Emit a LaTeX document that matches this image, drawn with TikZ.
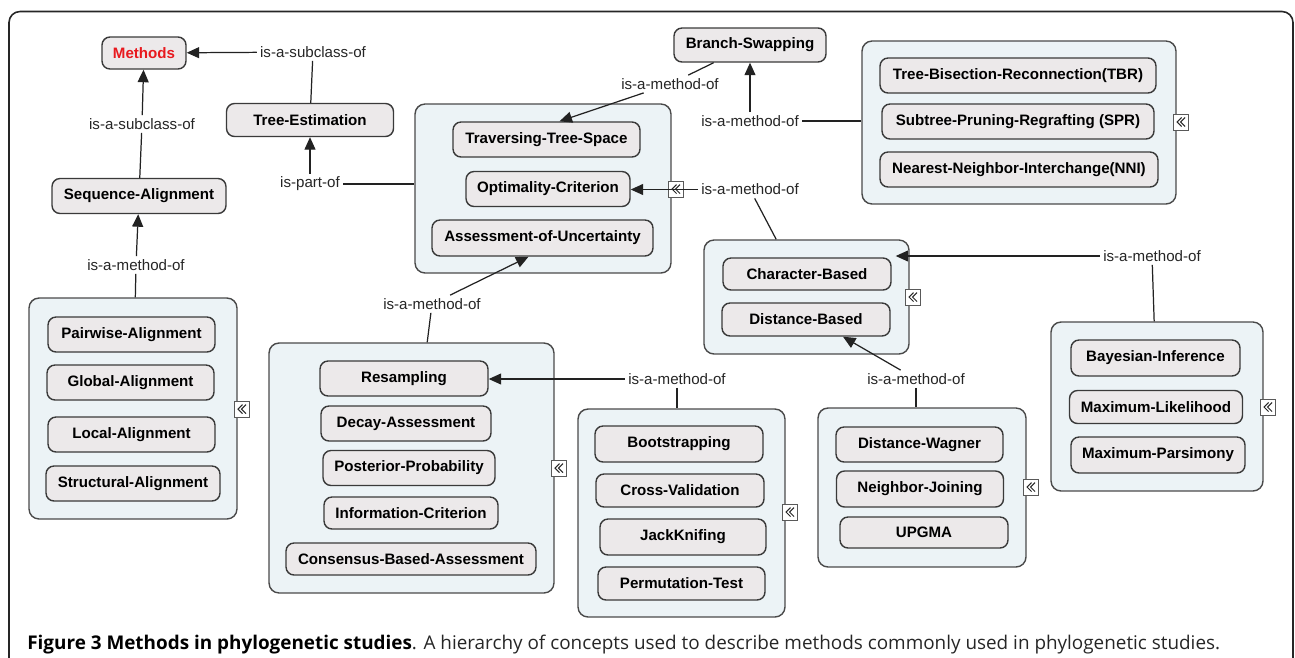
\documentclass[tikz,border=0pt]{standalone}
\usepackage{fontspec}
\setmainfont{Liberation Sans}
\newfontfamily\capfont{Open Sans}
\usetikzlibrary{arrows.meta,calc}
\definecolor{ndraw}{HTML}{3A3A3A}
\definecolor{nfill}{HTML}{ECE9EA}
\definecolor{gdraw}{HTML}{4A4A4A}
\definecolor{gfill}{HTML}{ECF3F6}
\definecolor{mred}{HTML}{E8191E}
\definecolor{lnk}{HTML}{222222}
\tikzset{
  concept/.style={draw=ndraw, fill=nfill, rounded corners=0.16cm, line width=0.8pt,
    minimum height=0.70cm, inner sep=0pt, font=\bfseries\fontsize{8.6}{10}\selectfont, text=black},
  grp/.style={draw=gdraw, fill=gfill, rounded corners=0.2cm, line width=0.8pt, inner sep=0pt},
  lbl/.style={fill=white, inner sep=0.06cm, font=\fontsize{8.6}{10}\selectfont, text=black!85},
  conn/.style={draw=lnk, line width=0.7pt},
  arr/.style={conn, -{Triangle[length=0.25cm,width=0.22cm]}},
  icon/.style={draw=black!65, fill=white, line width=0.5pt, minimum width=0.30cm,
    minimum height=0.32cm, inner sep=0pt,
    path picture={
      \draw[line width=0.6pt, black!85]
        ([xshift=0.01cm,yshift=0.09cm]path picture bounding box.center) --
        ([xshift=-0.08cm]path picture bounding box.center) --
        ([xshift=0.01cm,yshift=-0.09cm]path picture bounding box.center);
      \draw[line width=0.6pt, black!85]
        ([xshift=0.08cm,yshift=0.09cm]path picture bounding box.center) --
        ([xshift=-0.01cm]path picture bounding box.center) --
        ([xshift=0.08cm,yshift=-0.09cm]path picture bounding box.center);
    }}
}
\begin{document}
\begin{tikzpicture}[x=0.02cm,y=-0.02cm]
\useasboundingbox (0,0) rectangle (1295,657);
\begin{scope}
\clip (0,0) rectangle (1295,657);
\draw[draw=black!85, line width=0.9pt, rounded corners=0.22cm] (9,720) -- (9,11.5) -- (1293,11.5) -- (1293,720);
\end{scope}

% groups
\node[grp, minimum width=5.12cm, minimum height=3.38cm] (g1) at (543,188.5) {};
\node[grp, minimum width=6.28cm, minimum height=3.26cm] (gtbr) at (1019,122.5) {};
\node[grp, minimum width=4.10cm, minimum height=2.28cm] (gchar) at (806.5,297) {};
\node[grp, minimum width=4.16cm, minimum height=4.42cm] (galign) at (133,408.5) {};
\node[grp, minimum width=5.70cm, minimum height=5.00cm] (gresamp) at (411.5,468) {};
\node[grp, minimum width=4.14cm, minimum height=4.16cm] (gboot) at (681.5,513) {};
\node[grp, minimum width=4.16cm, minimum height=3.18cm] (gupgma) at (922,487.5) {};
\node[grp, minimum width=4.24cm, minimum height=3.38cm] (gbayes) at (1157,406.5) {};

% concepts
\node[concept, minimum width=1.68cm, minimum height=0.64cm, text=mred] (methods) at (144,53) {Methods};
\node[concept, minimum width=3.34cm, minimum height=0.66cm] (treeest) at (310,120) {Tree-Estimation};
\node[concept, minimum width=3.48cm] (seq) at (139,196) {Sequence-Alignment};
\node[concept, minimum width=3.04cm, minimum height=0.68cm] (branch) at (750,45) {Branch-Swapping};
\node[concept, minimum width=3.74cm] (trav) at (546.5,139.5) {Traversing-Tree-Space};
\node[concept, minimum width=3.28cm] (optim) at (548,189) {Optimality-Criterion};
\node[concept, minimum width=4.42cm, minimum height=0.72cm] (assess) at (542.5,238) {Assessment-of-Uncertainty};
\node[concept, minimum width=5.52cm] (tbr) at (1018,75.5) {Tree-Bisection-Reconnection(TBR)};
\node[concept, minimum width=5.44cm] (spr) at (1018,121.5) {Subtree-Pruning-Regrafting (SPR)};
\node[concept, minimum width=5.56cm] (nni) at (1019,169.5) {Nearest-Neighbor-Interchange(NNI)};
\node[concept, minimum width=3.36cm, minimum height=0.64cm] (charb) at (807,274) {Character-Based};
\node[concept, minimum width=3.36cm, minimum height=0.66cm] (distb) at (806,319.5) {Distance-Based};
\node[concept, minimum width=3.34cm] (pair) at (131.5,334.5) {Pairwise-Alignment};
\node[concept, minimum width=3.34cm] (glob) at (130.5,382.5) {Global-Alignment};
\node[concept, minimum width=3.34cm] (loc) at (131.5,434.5) {Local-Alignment};
\node[concept, minimum width=3.48cm] (struct) at (133,483.5) {Structural-Alignment};
\node[concept, minimum width=3.36cm] (resamp) at (404,378.5) {Resampling};
\node[concept, minimum width=3.40cm] (decay) at (406,423.5) {Decay-Assessment};
\node[concept, minimum width=3.44cm] (post) at (409,468) {Posterior-Probability};
\node[concept, minimum width=3.48cm, minimum height=0.64cm] (info) at (411,513) {Information-Criterion};
\node[concept, minimum width=5.00cm, minimum height=0.64cm] (cons) at (411,559) {Consensus-Based-Assessment};
\node[concept, minimum width=3.36cm, minimum height=0.72cm] (boot) at (679,444) {Bootstrapping};
\node[concept, minimum width=3.36cm, minimum height=0.66cm] (cross) at (680,490.5) {Cross-Validation};
\node[concept, minimum width=3.32cm, minimum height=0.72cm] (jack) at (683,537) {JackKnifing};
\node[concept, minimum width=3.34cm, minimum height=0.66cm] (perm) at (681.5,583.5) {Permutation-Test};
\node[concept, minimum width=3.34cm] (dw) at (919.5,444.5) {Distance-Wagner};
\node[concept, minimum width=3.34cm, minimum height=0.72cm] (nj) at (920,489) {Neighbor-Joining};
\node[concept, minimum width=3.36cm, minimum height=0.62cm] (upgma) at (924,532.5) {UPGMA};
\node[concept, minimum width=3.38cm, minimum height=0.72cm] (bayes) at (1155.5,358) {Bayesian-Inference};
\node[concept, minimum width=3.46cm, minimum height=0.66cm] (ml) at (1156,407) {Maximum-Likelihood};
\node[concept, minimum width=3.48cm, minimum height=0.72cm] (mp) at (1158,455) {Maximum-Parsimony};

% collapse icons
\node[icon] (ic1) at (676,189) {};
\node[icon] (ic2) at (1181,122) {};
\node[icon] (ic3) at (913,297) {};
\node[icon] (ic4) at (242,409) {};
\node[icon] (ic5) at (559,468) {};
\node[icon] (ic6) at (790,512) {};
\node[icon] (ic7) at (1031,487) {};
\node[icon] (ic8) at (1268,407) {};

% linking phrases
\node[lbl] (L1) at (313,52) {is-a-subclass-of};
\node[lbl] (L2) at (142,124) {is-a-subclass-of};
\node[lbl] (L3) at (136,265) {is-a-method-of};
\node[lbl] (L4) at (310,184) {is-part-of};
\node[lbl] (L5) at (670,84) {is-a-method-of};
\node[lbl] (L6) at (750,121) {is-a-method-of};
\node[lbl] (L7) at (750,189.5) {is-a-method-of};
\node[lbl] (L8) at (1152,256) {is-a-method-of};
\node[lbl] (L9) at (432,304) {is-a-method-of};
\node[lbl] (L10) at (677,379) {is-a-method-of};
\node[lbl] (L11) at (916,379) {is-a-method-of};

% connectors
\draw[arr] (L1) -- (methods);
\draw[conn] (treeest) -- (L1);
\draw[conn] (seq) -- (L2);
\draw[arr] (L2) -- (methods);
\draw[conn] (galign) -- (L3);
\draw[arr] (L3) -- (seq);
\draw[conn] (L4.east) -- (L4.east -| g1.west);
\draw[arr] (L4) -- (treeest);
\draw[conn] (L5) -- (branch);
\draw[arr] (L5) -- ([xshift=0.26cm]trav.north);
\draw[conn] (L6.east) -- (L6.east -| gtbr.west);
\draw[arr] (L6) -- (branch);
\draw[arr] (L7.west) -- (L7.west -| optim.east);
\draw[conn] (L7) -- (gchar);
\draw[arr] (L8.west) -- ([xshift=0.08cm]L8.west -| charb.east);
\draw[conn] (L8) -- (gbayes);
\draw[conn] (gresamp) -- (L9);
\draw[arr] (L9) -- ([xshift=-0.28cm]assess.south);
\draw[arr] (L10.west) -- (L10.west -| resamp.east);
\draw[conn] (L10.south) -- (L10.south |- gboot.north);
\draw[arr] (L11) -- ([xshift=0.74cm]distb.south);
\draw[conn] (L11.south) -- (L11.south |- gupgma.north);

% caption
\node[anchor=base west, inner sep=0pt, text=black!85, font=\capfont\fontsize{10.5}{12}\selectfont] (cap) at (27,649)
  {\resizebox{23.86cm}{!}{\textbf{\color{black}Figure 3 Methods in phylogenetic studies}. A hierarchy of concepts used to describe methods commonly used in phylogenetic studies.}};
\end{tikzpicture}
\end{document}
